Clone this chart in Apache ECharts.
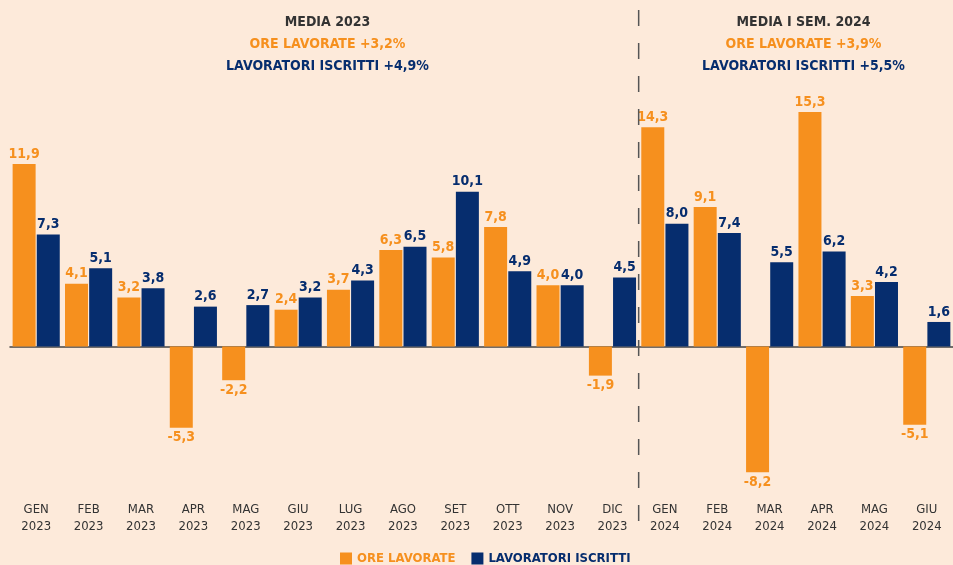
<!DOCTYPE html>
<html>
<head>
<meta charset="utf-8">
<script src="https://cdn.jsdelivr.net/npm/echarts@6/dist/echarts.min.js"></script>
<style>
html,body{margin:0;padding:0;background:#FDEADA;}
#c{width:953px;height:565px;}
</style>
</head>
<body>
<div id="c"></div>
<script>
const months = ['GEN','FEB','MAR','APR','MAG','GIU','LUG','AGO','SET','OTT','NOV','DIC','GEN','FEB','MAR','APR','MAG','GIU'];
const years = ['2023','2023','2023','2023','2023','2023','2023','2023','2023','2023','2023','2023','2024','2024','2024','2024','2024','2024'];
const oreLavorate = [11.9, 4.1, 3.2, -5.3, -2.2, 2.4, 3.7, 6.3, 5.8, 7.8, 4.0, -1.9, 14.3, 9.1, -8.2, 15.3, 3.3, -5.1];
const lavoratoriIscritti = [7.3, 5.1, 3.8, 2.6, 2.7, 3.2, 4.3, 6.5, 10.1, 4.9, 4.0, 4.5, 8.0, 7.4, 5.5, 6.2, 4.2, 1.6];
const seriesNames = ['ORE LAVORATE', 'LAVORATORI ISCRITTI'];
const title2023 = ['MEDIA 2023', 'ORE LAVORATE +3,2%', 'LAVORATORI ISCRITTI +4,9%'];
const title2024 = ['MEDIA I SEM. 2024', 'ORE LAVORATE +3,9%', 'LAVORATORI ISCRITTI +5,5%'];

const FONT = "'DejaVu Sans Condensed', 'Liberation Sans Narrow', sans-serif";
const ORANGE = '#F6901E';
const NAVY = '#062D6E';
const GREY = '#333333';

const categories = months.map((m, i) => m + '\n' + years[i]);
const fmt = v => v.toFixed(1).replace('.', ',');

function toItems(arr, color) {
  return arr.map(v => ({
    value: v,
    label: {
      show: true,
      position: v < 0 ? 'bottom' : 'top',
      distance: 3,
      color: color,
      fontFamily: FONT,
      fontWeight: 'bold',
      fontSize: 14,
      formatter: () => fmt(v)
    }
  }));
}

function titleBlock(lines, cx) {
  const colors = [GREY, ORANGE, NAVY];
  const ys = [22, 44, 66];
  return lines.map((t, i) => ({
    type: 'text',
    x: cx, y: ys[i],
    style: {
      text: t, align: 'center', verticalAlign: 'middle',
      fill: colors[i], font: 'bold 14px ' + FONT
    }
  }));
}

const chart = echarts.init(document.getElementById('c'), null, {renderer: 'canvas'});
chart.setOption({
  backgroundColor: '#FDEADA',
  animation: false,
  grid: {left: 10, top: 101.2, width: 951, height: 398.6, containLabel: false},
  legend: {
    left: 340, top: 552, padding: 0,
    itemWidth: 12, itemHeight: 12, itemGap: 16,
    icon: 'rect',
    data: [
      {name: seriesNames[0], textStyle: {color: ORANGE}},
      {name: seriesNames[1], textStyle: {color: NAVY}}
    ],
    textStyle: {fontFamily: FONT, fontWeight: 'bold', fontSize: 13}
  },
  xAxis: [{
    type: 'category',
    data: categories,
    position: 'bottom',
    axisLine: {show: false, onZero: false},
    axisTick: {show: false},
    axisLabel: {color: GREY, fontFamily: FONT, fontSize: 13, lineHeight: 17, margin: 1, interval: 0}
  }, {
    type: 'category',
    data: categories,
    axisLine: {show: true, onZero: true, lineStyle: {color: '#444', width: 1.5}},
    axisTick: {show: false},
    axisLabel: {show: false}
  }],
  yAxis: {
    type: 'value', min: -10, max: 16, show: false,
    splitLine: {show: false}
  },
  series: [{
    name: seriesNames[0], type: 'bar', data: toItems(oreLavorate, ORANGE),
    itemStyle: {color: ORANGE}, barWidth: 23, barGap: '5%'
  }, {
    name: seriesNames[1], type: 'bar', data: toItems(lavoratoriIscritti, NAVY),
    itemStyle: {color: NAVY}, barWidth: 23, barGap: '5%'
  }]
});

// divider between 2023 and 2024 + titles
const xA = chart.convertToPixel({xAxisIndex: 0}, categories[11]);
const xB = chart.convertToPixel({xAxisIndex: 0}, categories[12]);
const xDiv = (xA + xB) / 2;
chart.setOption({
  graphic: [{
    type: 'line',
    shape: {x1: xDiv, y1: 10, x2: xDiv, y2: 530},
    style: {stroke: '#555', lineWidth: 1.5, lineDash: [16, 17]},
    z: 10
  }].concat(titleBlock(title2023, 327.5), titleBlock(title2024, 803.5))
});
</script>
</body>
</html>
